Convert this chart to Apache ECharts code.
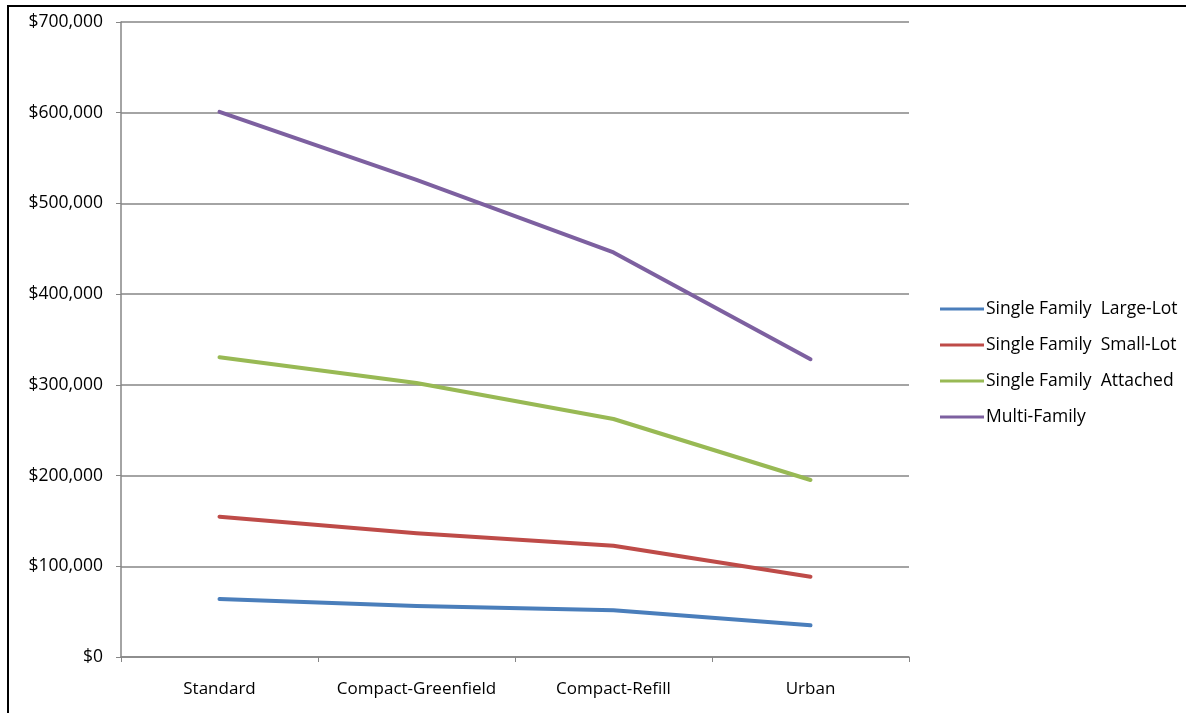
<!DOCTYPE html>
<html><head><meta charset="utf-8">
<script src="https://cdn.jsdelivr.net/npm/echarts@6/dist/echarts.min.js"></script>
<style>html,body{margin:0;padding:0;background:#fff}#c{width:1186px;height:713px}</style>
</head><body><div id="c"></div>
<script>
const categories = ['Standard', 'Compact-Greenfield', 'Compact-Refill', 'Urban'];
const seriesNames = ['Single Family  Large-Lot', 'Single Family  Small-Lot', 'Single Family  Attached', 'Multi-Family'];
const largeLot = [63900, 56200, 51500, 35000];
const smallLot = [154700, 136400, 122700, 88500];
const attached = [330500, 302000, 262400, 195100];
const multiFamily = [601000, 526000, 446000, 328200];
const colors = ['#4A7EBB', '#BE4B48', '#98B954', '#7D60A0'];
const yMin = 0, yMax = 700000, yInterval = 100000;

const dataSets = [largeLot, smallLot, attached, multiFamily];
const font = 'Open Sans';
const chart = echarts.init(document.getElementById('c'), null, {renderer: 'canvas'});
chart.setOption({
  animation: false,
  backgroundColor: '#fff',
  color: colors,
  graphic: [{type: 'rect', shape: {x: 8, y: 6, width: 1200, height: 720}, style: {fill: 'none', stroke: '#000', lineWidth: 2}, silent: true}],
  grid: {left: 121, right: 277, top: 22, bottom: 56},
  legend: {
    orient: 'vertical', left: 940, top: 299, padding: 0,
    icon: 'rect', itemWidth: 44, itemHeight: 3, itemGap: 16,
    textStyle: {fontFamily: font, fontSize: 17.5, color: '#000', lineHeight: 20, padding: [0, 0, 0, -3]},
    data: seriesNames
  },
  xAxis: {
    type: 'category', data: categories, boundaryGap: true,
    axisLine: {lineStyle: {color: '#868686', width: 1.5}},
    axisTick: {show: true, length: 5, interval: 0, lineStyle: {color: '#868686'}},
    axisLabel: {fontFamily: font, fontSize: 17, color: '#000', margin: 24, interval: 0}
  },
  yAxis: {
    type: 'value', min: yMin, max: yMax, interval: yInterval,
    axisLine: {show: true, lineStyle: {color: '#868686', width: 1.5}},
    axisTick: {show: true, length: 5, lineStyle: {color: '#868686'}},
    splitLine: {lineStyle: {color: '#868686', width: 1.5}},
    axisLabel: {fontFamily: font, fontSize: 17.5, color: '#000', margin: 18,
      formatter: v => '$' + v.toLocaleString('en-US')}
  },
  series: seriesNames.map((n, i) => ({
    name: n, type: 'line', data: dataSets[i], showSymbol: false, symbol: 'none',
    lineStyle: {width: 4, color: colors[i], cap: 'round', join: 'round'}, itemStyle: {color: colors[i]}
  }))
});
</script></body></html>
